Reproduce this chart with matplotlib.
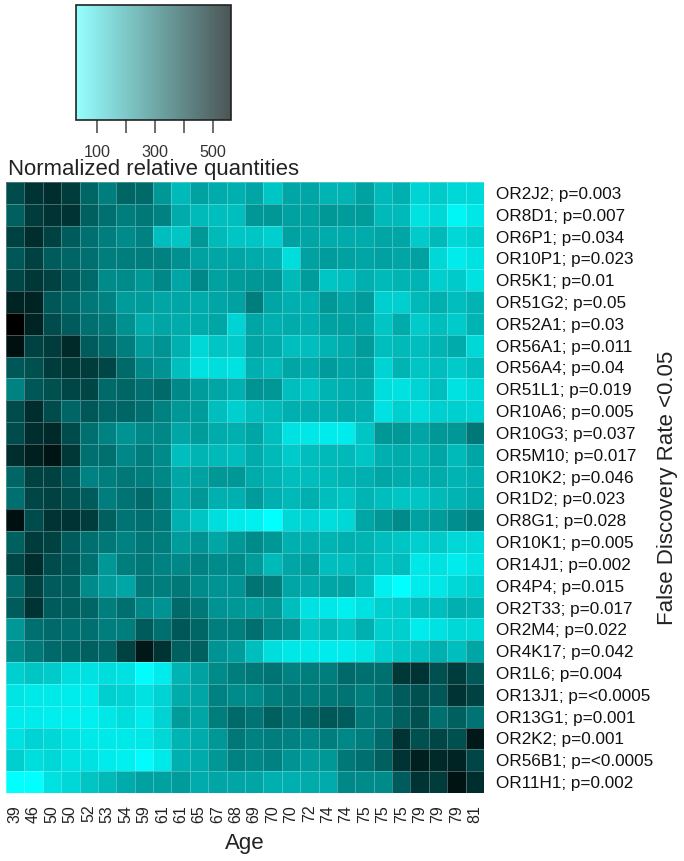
import numpy as np
import matplotlib
matplotlib.use("Agg")
import matplotlib.pyplot as plt
from matplotlib.colors import LinearSegmentedColormap, Normalize
from matplotlib.cm import ScalarMappable

plt.rcParams['font.family'] = ['Liberation Sans', 'DejaVu Sans']

ages = [39,46,50,50,52,53,54,59,61,61,65,67,68,69,70,70,72,74,74,75,75,75,79,79,79,81]
genes = ["OR2J2; p=0.003","OR8D1; p=0.007","OR6P1; p=0.034","OR10P1; p=0.023","OR5K1; p=0.01",
         "OR51G2; p=0.05","OR52A1; p=0.03","OR56A1; p=0.011","OR56A4; p=0.04","OR51L1; p=0.019",
         "OR10A6; p=0.005","OR10G3; p=0.037","OR5M10; p=0.017","OR10K2; p=0.046","OR1D2; p=0.023",
         "OR8G1; p=0.028","OR10K1; p=0.005","OR14J1; p=0.002","OR4P4; p=0.015","OR2T33; p=0.017",
         "OR2M4; p=0.022","OR4K17; p=0.042","OR1L6; p=0.004","OR13J1; p=<0.0005","OR13G1; p=0.001",
         "OR2K2; p=0.001","OR56B1; p=<0.0005","OR11H1; p=0.002"]
quantities = [
 [405,455,465,435,350,300,350,340,245,175,225,205,195,215,150,215,215,185,185,225,175,195,120,140,110,110],
 [360,435,455,455,360,330,300,310,290,205,175,165,165,245,245,225,225,245,235,235,175,175,90,110,50,80],
 [425,465,425,370,330,300,270,290,165,150,245,175,150,150,130,225,215,205,205,205,215,215,140,175,110,130],
 [380,425,370,350,330,300,300,300,290,260,225,215,215,205,195,100,225,235,225,215,225,215,225,110,70,90],
 [415,445,425,380,340,270,270,245,280,215,280,225,235,245,245,175,235,150,165,195,175,185,185,130,140,90],
 [485,485,380,350,310,290,235,235,215,215,205,215,225,300,215,195,195,245,215,235,130,130,175,195,165,185],
 [560,485,405,370,330,310,260,205,215,205,205,215,120,215,195,205,195,225,225,215,150,205,140,165,140,185],
 [530,425,435,475,370,340,300,235,255,195,110,150,140,215,205,165,165,185,205,235,165,175,165,185,205,110],
 [380,395,435,445,435,415,340,280,255,165,90,100,90,195,175,215,205,235,215,225,120,185,150,165,140,165],
 [290,380,395,415,415,340,350,330,340,280,235,215,195,255,245,165,150,185,195,205,100,90,120,165,90,110],
 [405,465,405,350,380,350,350,330,290,245,235,165,130,165,175,195,195,195,205,195,90,130,100,130,130,120],
 [405,465,475,405,330,290,255,280,280,215,235,205,195,215,165,90,80,70,70,150,245,245,215,245,245,310],
 [465,495,520,445,330,330,280,300,270,165,185,175,165,205,175,140,165,175,175,150,195,205,185,215,175,215],
 [350,425,425,380,290,300,310,300,280,215,225,245,245,205,185,165,165,175,185,195,215,205,195,205,185,195],
 [330,415,425,395,370,300,320,340,300,215,245,195,195,235,195,175,195,165,150,185,165,150,150,175,185,205],
 [530,405,455,455,435,360,320,330,310,195,150,100,70,60,30,110,120,100,110,215,245,270,225,235,265,290],
 [360,435,425,370,330,310,290,310,300,235,255,215,245,270,245,195,195,185,195,185,165,150,130,140,110,110],
 [415,465,405,380,330,245,300,310,290,280,290,270,270,235,175,215,225,165,165,185,150,165,80,90,70,90],
 [340,425,370,360,270,235,215,310,300,310,270,255,255,320,300,215,205,215,215,165,60,30,70,80,110,130],
 [370,455,370,360,350,300,330,280,255,340,310,255,245,235,245,165,90,80,60,90,130,140,165,165,195,185],
 [245,330,340,330,330,300,300,370,330,380,350,300,300,330,280,255,150,175,150,195,130,130,70,90,110,110],
 [270,310,340,350,360,350,425,510,455,360,360,255,235,165,100,80,75,70,70,85,130,150,165,195,165,215],
 [130,150,140,100,90,100,90,35,70,185,225,270,300,310,320,290,300,300,340,330,330,445,455,395,435,380],
 [85,75,75,70,70,130,120,90,120,205,215,290,270,270,300,310,300,310,320,300,330,370,395,380,455,425],
 [70,70,65,60,60,80,100,70,120,235,215,300,340,320,360,330,350,380,370,310,320,360,395,330,360,320],
 [90,120,110,90,75,75,75,80,110,185,205,245,310,290,300,290,280,300,280,300,340,455,395,415,395,510],
 [130,100,110,90,90,70,60,35,75,195,205,245,290,280,290,255,235,245,310,330,360,455,495,475,485,415],
 [30,30,90,110,150,175,205,225,225,235,205,215,215,215,195,195,205,205,280,270,270,370,455,435,520,465],
]
bar_ticks = [100,200,300,400,500]
bar_labels = ["100","","300","","500"]

W, H = 684, 861
fig = plt.figure(figsize=(W/100, H/100), dpi=100, facecolor="white")
def px(x0, y0, x1, y1):
    return [x0/W, 1-y1/H, (x1-x0)/W, (y1-y0)/H]

norm = Normalize(28, 562)
heat_cmap = LinearSegmentedColormap.from_list("cy", ["#00ffff", "#000000"])
bar_cmap = LinearSegmentedColormap.from_list("cyb", ["#96ffff", "#4b5555"])

ax = fig.add_axes(px(6, 182, 484, 793))
data = np.array(quantities)
ax.pcolormesh(data, cmap=heat_cmap, norm=norm, edgecolors=(1,1,1,0.28), linewidth=0.7)
ax.invert_yaxis()
ax.set_xticks(np.arange(len(ages))+0.5, [str(a) for a in ages], rotation=90, fontsize=11.5, color="#222222")
ax.set_yticks(np.arange(len(genes))+0.5, genes, fontsize=12.3, color="#111111")
ax.yaxis.tick_right()
ax.tick_params(axis="both", length=0)
ax.tick_params(axis="x", pad=8.5)
ax.tick_params(axis="y", pad=8.6)
for s in ax.spines.values():
    s.set_visible(False)
ax.set_xlabel("Age", fontsize=16, color="#222222", va="center")
ax.xaxis.set_label_coords(0.5, -50/611)

fig.text(668/W, 1-488/H, "False Discovery Rate <0.05", rotation=90, ha="center", va="center",
         fontsize=16, color="#222222")
fig.text(8/W, 1-169/H, "Normalized relative quantities", ha="left", va="center",
         fontsize=15.9, color="#222222")

cax = fig.add_axes(px(76, 5, 231, 120))
cb = fig.colorbar(ScalarMappable(norm=norm, cmap=bar_cmap), cax=cax, orientation="horizontal")
cb.set_ticks(bar_ticks, labels=bar_labels)
cb.ax.tick_params(length=9, width=1.1, color="#444444", labelsize=11.6, pad=9, labelcolor="#333333")
cb.outline.set_edgecolor("#222222")
cb.outline.set_linewidth(1.2)

fig.savefig("out.png", dpi=100, facecolor="white")
